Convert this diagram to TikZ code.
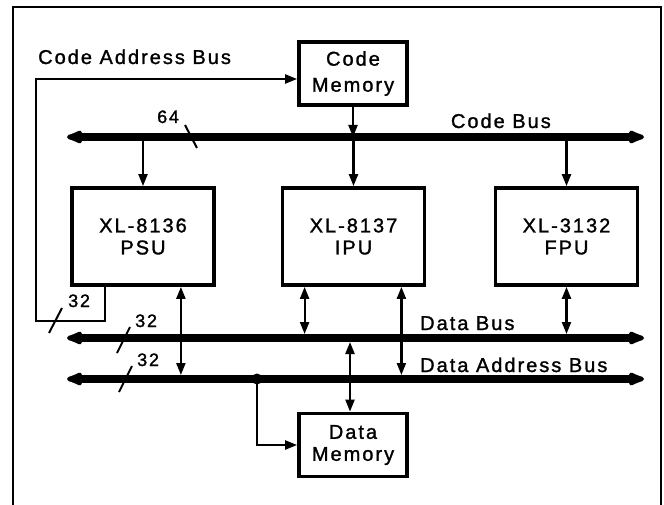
\documentclass[tikz,border=0pt]{standalone}
\usepackage{fontspec}
\setmainfont{Liberation Sans}[LetterSpace=10, FakeBold=1.3]
\usetikzlibrary{arrows.meta,calc}

\begin{document}
\begin{tikzpicture}[x=1pt, y=-1pt,
    unit/.style={draw, line width=3.8pt, minimum width=142pt, minimum height=97pt, inner sep=0pt, align=center, font=\fontsize{20}{22}\selectfont},
    memory/.style={draw, line width=3.8pt, minimum width=108pt, minimum height=63pt, inner sep=0pt, align=center, font=\fontsize{20}{22}\selectfont},
    bus/.style={line width=8pt, {Latex[length=22pt,width=16pt,round]}-{Latex[length=22pt,width=16pt,round]}},
    sig/.style={line width=2.2pt, -{Triangle[length=12pt,width=9pt]}},
    sigboth/.style={line width=2.2pt, {Triangle[length=12pt,width=9pt]}-{Triangle[length=12pt,width=9pt]}},
    width/.style={line width=2pt},
    label/.style={font=\fontsize{20}{22}\selectfont, inner sep=0pt},
    count/.style={font=\fontsize{18}{20}\selectfont, inner sep=0pt}]
    \useasboundingbox (0,0) rectangle (664,505);

    % Frame, open at the bottom
    \draw[line width=2.2pt] (13,505) -- (13,7) -- (661,7) -- (661,505);

    % Memories and processing units
    \node[memory, font=\fontsize{20}{26}\selectfont] (codemem) at (353,73.5) {Code\\Memory};
    \node[unit] (psu) at (143,236.5) {XL-8136\\PSU};
    \node[unit] (ipu) at (353.5,236.5) {XL-8137\\IPU};
    \node[unit] (fpu) at (566.5,236.5) {XL-3132\\FPU};
    \node[memory] (datamem) at (353,445) {Data\\Memory};

    % Bus end points
    \coordinate (cbL) at (67,137);
    \coordinate (cbR) at (644,137);
    \coordinate (dbL) at (67,338);
    \coordinate (dbR) at (644,338);
    \coordinate (dabL) at (67,379);
    \coordinate (dabR) at (644,379);

    % Bus labels
    \node[label, anchor=base west] (cablabel) at (38,64) {Code Address Bus};
    \node[label, anchor=base east] (cblabel) at (551,128) {Code Bus};
    \node[label, anchor=base west] (dblabel) at (420,330) {Data Bus};
    \node[label, anchor=base west] (dablabel) at (420,372) {Data Address Bus};

    % Code memory and code bus
    \draw[sig] (codemem.south) -- (codemem.south |- cbL);
    \draw[sig] (psu.north |- cbL) -- (psu.north);
    \draw[sig] (ipu.north |- cbL) -- (ipu.north);
    \draw[sig] (fpu.north |- cbL) -- (fpu.north);

    % Code address bus back to code memory
    \coordinate (retBL) at (36,321);
    \coordinate (retTL) at (36,79);
    \draw[sig] ([xshift=35pt]psu.south west) |- (retBL) -- (retTL) -- (retTL -| codemem.west);

    % Units to data bus and data address bus
    \draw[sigboth, shorten >=4pt] ([xshift=-35pt]psu.south east) -- ([xshift=-35pt]psu.south east |- dabL);
    \draw[sigboth, shorten >=4pt] ([xshift=24pt]ipu.south west) -- ([xshift=24pt]ipu.south west |- dbL);
    \draw[sigboth, shorten >=4pt] ([xshift=-25pt]ipu.south east) -- ([xshift=-25pt]ipu.south east |- dabL);
    \draw[sigboth, shorten >=4pt] (fpu.south) -- (fpu.south |- dbL);

    % Data memory
    \draw[sigboth, shorten >=4pt] ([xshift=-3pt]datamem.north) -- ([xshift=-3pt]datamem.north |- dbL);
    \coordinate (tap) at (257,379);
    \draw[sig] (tap) |- (datamem.west);

    % Buses
    \draw[bus] (cbL) -- (cbR);
    \draw[bus] (dbL) -- (dbR);
    \draw[bus] (dabL) -- (dabR);
    \fill (tap) circle (5.5pt);

    % Bus widths
    \draw[width] (185,125) -- (197,148);
    \node[count, anchor=base west] (w64) at (157,123) {64};
    \draw[width] (49,333) -- (62,308);
    \node[count, anchor=base west] (w32a) at (68,307) {32};
    \draw[width] (117,353) -- (130,327);
    \node[count, anchor=base west] (w32b) at (135,327) {32};
    \draw[width] (119,392) -- (132,366);
    \node[count, anchor=base west] (w32c) at (137,366) {32};
\end{tikzpicture}
\end{document}
